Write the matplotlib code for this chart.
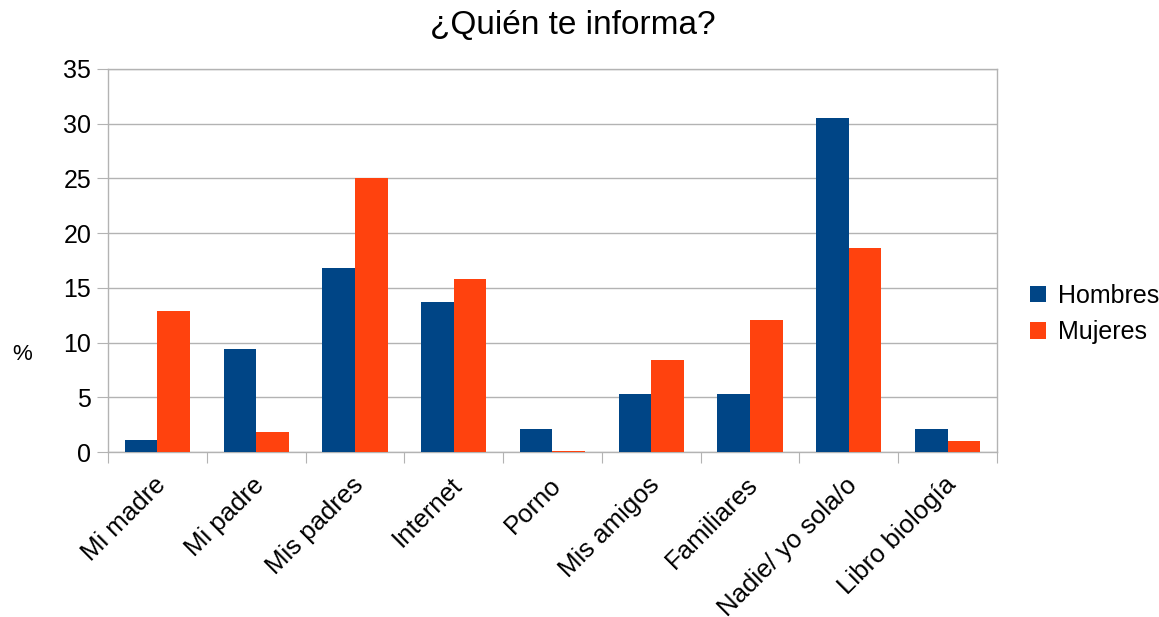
import matplotlib
matplotlib.use("Agg")
import matplotlib.pyplot as plt
import matplotlib.transforms as mtransforms
import numpy as np

categories = ["Mi madre", "Mi padre", "Mis padres", "Internet", "Porno",
              "Mis amigos", "Familiares", "Nadie/ yo sola/o", "Libro biología"]
hombres = [1.1, 9.4, 16.8, 13.7, 2.1, 5.3, 5.3, 30.5, 2.1]
mujeres = [12.9, 1.8, 25.0, 15.8, 0.1, 8.4, 12.1, 18.6, 1.0]
series_names = ["Hombres", "Mujeres"]
colors = ["#004586", "#ff420e"]
yticks = [0, 5, 10, 15, 20, 25, 30, 35]

plt.rcParams['font.family'] = ['Liberation Sans', 'DejaVu Sans']

fig = plt.figure(figsize=(11.59, 6.17), dpi=100)
ax = fig.add_axes([108/1159, 1-452/617, (997-108)/1159, (452-69)/617])

x = np.arange(len(categories))
w = 0.33
ax.bar(x - w/2, hombres, w, color=colors[0], label=series_names[0], zorder=3)
ax.bar(x + w/2, mujeres, w, color=colors[1], label=series_names[1], zorder=3)

ax.set_xlim(-0.5, len(categories) - 0.5)
ax.set_ylim(0, 35)
ax.set_yticks(yticks)
ax.set_yticklabels([str(v) for v in yticks], fontsize=18)
ax.yaxis.grid(True, color="#b3b3b3", linewidth=1, zorder=0)
ax.tick_params(axis='y', length=8, color="#b3b3b3", pad=4, direction='out')

ax.set_xticks(np.arange(-0.5, len(categories)), minor=False)
ax.set_xticklabels([])
ax.tick_params(axis='x', length=8, color="#b3b3b3", direction='out')
ax.set_xticks(x, minor=True)
ax.set_xticklabels(categories, minor=True, rotation=45, ha='right',
                   rotation_mode='anchor', fontsize=18.5)
ax.tick_params(axis='x', which='minor', length=0, pad=15)
offset = mtransforms.ScaledTranslation(-4/100, 0, fig.dpi_scale_trans)
for lbl in ax.get_xticklabels(minor=True):
    lbl.set_transform(lbl.get_transform() + offset)

for s in ax.spines.values():
    s.set_color("#b3b3b3")
    s.set_linewidth(1)

fig.text(22/1159, 1-355/617, "%", ha='center', va='center', fontsize=16)
fig.text(573/1159, 1-25/617, "¿Quién te informa?", ha='center', va='center', fontsize=24)

leg = fig.legend(loc='center left', bbox_to_anchor=(1030/1159, 1-314/617), frameon=False,
                 fontsize=18, handlelength=0.65, handleheight=0.65,
                 handletextpad=0.45, labelspacing=0.5, borderaxespad=0, borderpad=0)

fig.savefig("out.png", dpi=100)
